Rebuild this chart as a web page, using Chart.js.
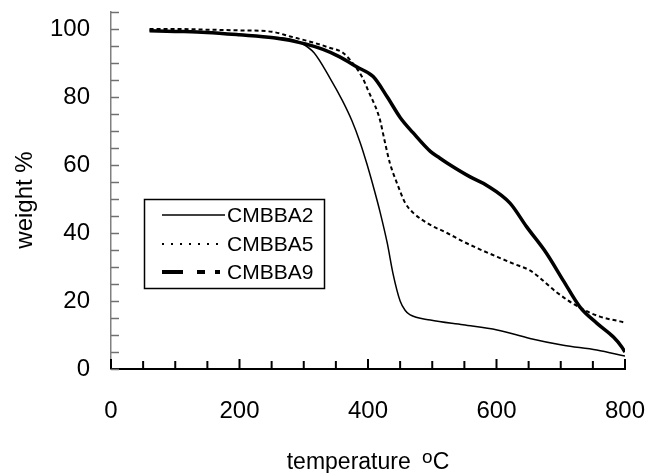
<!DOCTYPE html>
<html><head><meta charset="utf-8">
<script src="https://cdn.jsdelivr.net/npm/chart.js@4.4.0/dist/chart.umd.min.js"></script>
<style>html,body{margin:0;padding:0;background:#fff;}#wrap{width:648px;height:473px;}</style>
</head><body><div id="wrap"><canvas id="c" width="648" height="473"></canvas></div>
<script>
const seriesNames = ['CMBBA2', 'CMBBA5', 'CMBBA9'];

const tempA2   = [60, 100, 150, 200, 250, 280, 295, 316, 341, 360, 375, 388, 398, 410, 419, 430, 439, 450, 458, 465, 497, 548, 601, 652, 704, 756, 800];
const weightA2 = [99.5, 99.3, 99, 98.3, 97.6, 97, 96, 93, 85.5, 79, 73, 66.5, 60.5, 52.5, 46, 37, 28, 20, 17.2, 16, 14.4, 13, 11.5, 9, 7, 5.6, 3.8];

const tempA5   = [60, 100, 150, 200, 250, 279, 315, 340, 361, 380, 392, 400, 414, 419, 426, 434, 445, 458, 470, 497, 523, 548, 574, 601, 626, 652, 663, 694, 730, 761, 792, 800];
const weightA5 = [100, 100, 99.8, 99.6, 99.2, 97.8, 96, 94.5, 93, 89, 85.5, 82, 76, 73, 67, 60.6, 54.7, 48.8, 46, 42.4, 40, 37.5, 35.2, 33, 31, 29, 27.5, 22.5, 18, 15.4, 14, 13.6];

const tempA9   = [60, 100, 149, 200, 253, 294, 330, 356, 383, 408, 430, 450, 470, 497, 512, 523, 559, 585, 621, 647, 678, 704, 730, 756, 782, 795, 800];
const weightA9 = [99.5, 99.3, 99, 98.3, 97.4, 96, 94, 91.8, 88.8, 86, 80, 74, 69.5, 64, 62, 60.6, 56.5, 54, 48.8, 41.8, 34, 26, 18.2, 13.5, 9.4, 6.5, 5];

const xTickLabels = [0, 200, 400, 600, 800];
const yTickLabels = [0, 20, 40, 60, 80, 100];
const xTitle = 'temperature';
const xTitleSup = 'o';
const xTitleUnit = 'C';
const yTitle = 'weight %';

const FONT = '"Liberation Sans", Arial, sans-serif';

function pts(xs, ys) { return xs.map((x, i) => ({ x: x, y: ys[i] })); }

const legendStyles = [
  { width: 1.5, dash: [] },
  { width: 2, dash: [2, 7] },
  { width: 4, dash: [21, 14, 8, 10, 5, 200] }
];

const decorPlugin = {
  id: 'decor',
  afterDraw(chart) {
    const ctx = chart.ctx;
    const xs = chart.scales.x, ys = chart.scales.y;
    const ca = chart.chartArea;
    ctx.save();
    // inside tick marks, x axis
    ctx.strokeStyle = '#000';
    ctx.lineWidth = 2;
    xs.ticks.forEach(t => {
      const px = xs.getPixelForValue(t.value);
      const len = xTickLabels.includes(t.value) ? 10 : 8;
      ctx.beginPath(); ctx.moveTo(px, ca.bottom); ctx.lineTo(px, ca.bottom - len); ctx.stroke();
    });
    // inside tick marks, y axis
    ctx.strokeStyle = '#707070';
    ctx.lineWidth = 1.5;
    ys.ticks.forEach(t => {
      const py = Math.round(ys.getPixelForValue(t.value)) + 0.5;
      ctx.beginPath(); ctx.moveTo(ca.left, py); ctx.lineTo(ca.left + 8, py); ctx.stroke();
    });

    // x axis title with superscript
    ctx.fillStyle = '#000';
    ctx.textBaseline = 'alphabetic';
    ctx.textAlign = 'left';
    ctx.font = '23px ' + FONT;
    const w1 = ctx.measureText(xTitle + ' ').width;
    const wc = ctx.measureText(xTitleUnit).width;
    ctx.font = '19px ' + FONT;
    const wo = ctx.measureText(xTitleSup).width;
    const total = w1 + 5 + wo + wc;
    let sx = (ca.left + ca.right) / 2 - total / 2;
    const by = 469;
    ctx.font = '23px ' + FONT;
    ctx.fillText(xTitle, sx, by);
    ctx.font = '19px ' + FONT;
    ctx.fillText(xTitleSup, sx + w1 + 5, by - 6);
    ctx.font = '23px ' + FONT;
    ctx.fillText(xTitleUnit, sx + w1 + 5 + wo, by);

    // y axis title
    ctx.save();
    ctx.translate(32, 200);
    ctx.rotate(-Math.PI / 2);
    ctx.textAlign = 'center';
    ctx.font = '24px ' + FONT;
    ctx.fillText(yTitle, 0, 0);
    ctx.restore();

    // legend box
    const lx = ca.left + 33, ly = ca.top + 187, lw = 180, lh = 89;
    ctx.strokeStyle = '#000';
    ctx.lineWidth = 1.5;
    ctx.strokeRect(lx + 0.5, ly + 0.5, lw, lh);
    const rows = [ly + 16, ly + 45, ly + 73];
    chart.data.datasets.forEach((ds, i) => {
      const st = legendStyles[i];
      ctx.beginPath();
      ctx.setLineDash(st.dash);
      ctx.lineWidth = st.width;
      ctx.moveTo(lx + 18, rows[i]);
      ctx.lineTo(lx + 81, rows[i]);
      ctx.stroke();
      ctx.setLineDash([]);
      ctx.font = '21px ' + FONT;
      ctx.textBaseline = 'middle';
      ctx.textAlign = 'left';
      ctx.fillText(ds.label, lx + 83, rows[i] + 1);
    });
    ctx.restore();
  }
};

new Chart(document.getElementById('c'), {
  type: 'line',
  data: {
    datasets: [
      { label: seriesNames[0], data: pts(tempA2, weightA2), borderColor: '#000', borderWidth: 1.5, pointRadius: 0, cubicInterpolationMode: 'monotone', fill: false },
      { label: seriesNames[1], data: pts(tempA5, weightA5), borderColor: '#000', borderWidth: 2, borderDash: [4, 3], pointRadius: 0, cubicInterpolationMode: 'monotone', fill: false },
      { label: seriesNames[2], data: pts(tempA9, weightA9), borderColor: '#000', borderWidth: 3.5, pointRadius: 0, cubicInterpolationMode: 'monotone', fill: false }
    ]
  },
  options: {
    responsive: false,
    animation: false,
    layout: { padding: { left: 0, right: 23, top: 12, bottom: 0 } },
    plugins: { legend: { display: false }, tooltip: { enabled: false } },
    scales: {
      x: {
        type: 'linear', min: 0, max: 800,
        afterFit: s => { s.height = 104; s.paddingLeft = 0; s.paddingRight = 0; },
        grid: { display: false, drawTicks: false },
        border: { display: true, color: '#000', width: 2 },
        ticks: {
          stepSize: 50, autoSkip: false, maxRotation: 0,
          color: '#000', font: { size: 24, family: FONT }, padding: 28,
          callback: v => xTickLabels.includes(v) ? String(v) : ''
        }
      },
      y: {
        type: 'linear', min: 0, max: 105,
        afterFit: s => { s.width = 111; s.paddingTop = 0; s.paddingBottom = 0; },
        grid: { display: false, drawTicks: false },
        border: { display: true, color: '#808080', width: 1.5 },
        ticks: {
          stepSize: 5, autoSkip: false,
          color: '#000', font: { size: 24, family: FONT }, padding: 21,
          callback: v => yTickLabels.includes(v) ? String(v) : ''
        }
      }
    }
  },
  plugins: [decorPlugin]
});
</script>
</body></html>
